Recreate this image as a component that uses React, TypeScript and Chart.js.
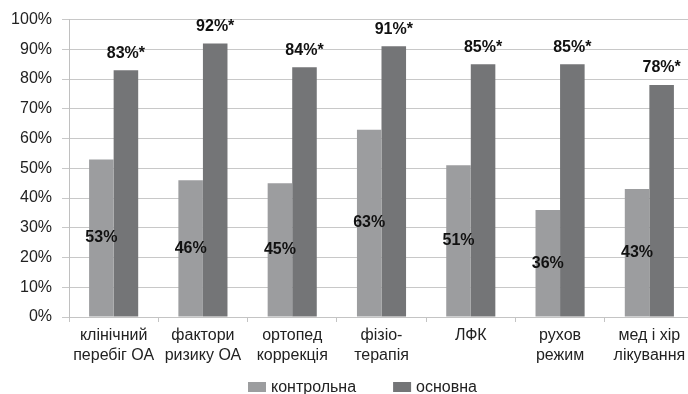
import React, { useEffect, useRef } from "react";
import { Chart, registerables } from "chart.js";

Chart.register(...registerables);

const categories: string[][] = [
  ["клінічний", "перебіг ОА"],
  ["фактори", "ризику ОА"],
  ["ортопед", "коррекція"],
  ["фізіо-", "терапія"],
  ["ЛФК"],
  ["рухов", "режим"],
  ["мед і хір", "лікування"],
];
const controlValues = [53, 46, 45, 63, 51, 36, 43];
const mainValues = [83, 92, 84, 91, 85, 85, 78];
const seriesNames = ["контрольна", "основна"];
const seriesColors = ["#9c9d9f", "#747577"];
const yTicks = [0, 10, 20, 30, 40, 50, 60, 70, 80, 90, 100];

const FONT = "'Liberation Sans', Arial, sans-serif";

const labelPlugin = {
  id: "valueLabels",
  afterDatasetsDraw(chart: any) {
    const ctx = chart.ctx;
    ctx.save();
    ctx.font = `bold 16px ${FONT}`;
    ctx.fillStyle = "#111";
    ctx.textAlign = "center";
    ctx.textBaseline = "middle";
    const m0 = chart.getDatasetMeta(0);
    m0.data.forEach((bar: any, i: number) => {
      const yMid = (bar.y + bar.base) / 2;
      ctx.fillText(controlValues[i] + "%", bar.x, yMid);
    });
    const m1 = chart.getDatasetMeta(1);
    m1.data.forEach((bar: any, i: number) => {
      ctx.fillText(mainValues[i] + "%*", bar.x, bar.y - 17);
    });
    ctx.restore();
  },
};

const legendPlugin = {
  id: "customLegend",
  afterDraw(chart: any) {
    const ctx = chart.ctx;
    ctx.save();
    ctx.font = `16px ${FONT}`;
    ctx.textBaseline = "alphabetic";
    ctx.textAlign = "left";
    let x = 248;
    const yBox = 382;
    chart.data.datasets.forEach((ds: any, i: number) => {
      ctx.fillStyle = ds.backgroundColor;
      ctx.fillRect(x, yBox, 18, 10);
      ctx.fillStyle = "#222";
      ctx.fillText(ds.label, x + 23, 392);
      const w = ctx.measureText(ds.label).width;
      x += 23 + w + 37;
    });
    ctx.restore();
  },
};

export default function App() {
  const ref = useRef<HTMLCanvasElement | null>(null);
  useEffect(() => {
    document.body.style.overflow = "hidden";
    document.documentElement.style.overflow = "hidden";
    const canvas = ref.current!;
    const chart = new Chart(canvas, {
      type: "bar",
      data: {
        labels: categories as any,
        datasets: [
          {
            label: seriesNames[0],
            data: controlValues,
            backgroundColor: seriesColors[0],
            categoryPercentage: 0.55,
            barPercentage: 1,
          },
          {
            label: seriesNames[1],
            data: mainValues,
            backgroundColor: seriesColors[1],
            categoryPercentage: 0.55,
            barPercentage: 1,
          },
        ],
      },
      options: {
        animation: false,
        responsive: false,
        devicePixelRatio: 1,
        layout: { padding: { top: 19, right: 0, bottom: 0, left: 0 } },
        plugins: {
          legend: { display: false },
          tooltip: { enabled: false },
        },
        scales: {
          x: {
            grid: {
              offset: true,
              drawOnChartArea: false,
              drawTicks: true,
              tickLength: 5,
              color: "#c4c4c4",
            },
            border: { display: true, color: "#c4c4c4" },
            ticks: {
              font: { family: FONT, size: 16, lineHeight: 1.25 },
              color: "#222",
              padding: 4,
              maxRotation: 0,
              autoSkip: false,
            },
            afterFit(scale: any) {
              scale.height = 77;
            },
          },
          y: {
            min: 0,
            max: 100,
            afterBuildTicks(scale: any) {
              scale.ticks = yTicks.map((v) => ({ value: v }));
            },
            grid: {
              color: "#c8c8c8",
              tickLength: 7,
              drawTicks: true,
            },
            border: { display: true, color: "#c0c0c0" },
            ticks: {
              font: { family: FONT, size: 16 },
              color: "#222",
              padding: 10,
              callback: (v: any) => v + "%",
            },
            afterFit(scale: any) {
              scale.width = 69;
            },
          },
        },
      },
      plugins: [labelPlugin, legendPlugin],
    });
    return () => chart.destroy();
  }, []);
  return (
    <div style={{ position: "absolute", left: 0, top: 0, width: 694, height: 394 }}>
      <canvas ref={ref} width={694} height={394} />
    </div>
  );
}
